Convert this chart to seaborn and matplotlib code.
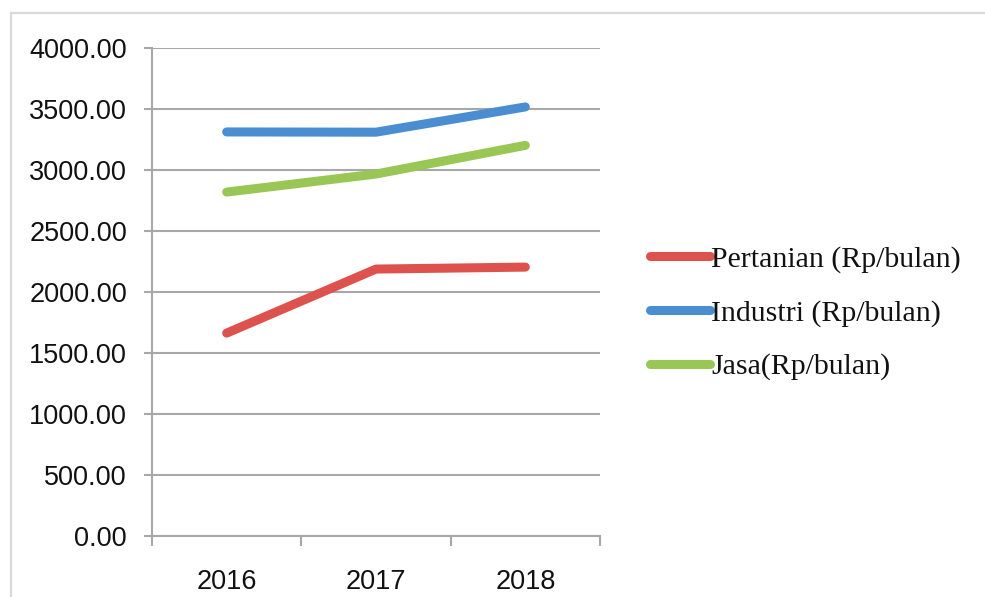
import pandas as pd
import matplotlib.pyplot as plt
from matplotlib.patches import Rectangle
from matplotlib.ticker import FixedLocator
import seaborn as sns

tahun = ["2016", "2017", "2018"]
pertanian = [1663, 2188, 2204]
industri = [3312, 3310, 3517]
jasa = [2819, 2967, 3202]

seri = ["Pertanian (Rp/bulan)", "Industri (Rp/bulan)", "Jasa(Rp/bulan)"]
warna = ["#DD524D", "#4A8DD0", "#99C655"]

df = pd.DataFrame({
    "Tahun": tahun * 3,
    "Nilai": pertanian + industri + jasa,
    "Sektor": [seri[0]] * 3 + [seri[1]] * 3 + [seri[2]] * 3,
})

sns.set_style("white")
plt.rcParams["font.family"] = ["Liberation Sans", "DejaVu Sans"]

fig = plt.figure(figsize=(9.85, 5.97), dpi=100)
ax = fig.add_axes([152 / 985, 1 - 536 / 597, 448 / 985, 488 / 597])

# bingkai luar chart
fig.patches.append(Rectangle((11 / 985, -0.1), 1.2, 1 - 13 / 597 + 0.1,
                             transform=fig.transFigure, fill=False,
                             edgecolor="#D9D9D9", linewidth=1.6, zorder=0))

sns.lineplot(data=df, x="Tahun", y="Nilai", hue="Sektor", palette=warna,
             linewidth=6.5, solid_capstyle="round", ax=ax, legend=False, sort=False)

ax.set_xlim(-0.5, 2.5)
ax.set_ylim(0, 4000)
ax.set_yticks(range(0, 4001, 500))
ax.set_yticklabels([f"{v:.2f}" for v in range(0, 4001, 500)])
ax.yaxis.grid(True, color="#A8A8A8", linewidth=1.5)
ax.set_axisbelow(True)

ax.set_xticks([0, 1, 2])
ax.set_xticklabels(tahun)
ax.xaxis.set_minor_locator(FixedLocator([-0.5, 0.5, 1.5, 2.5]))
ax.tick_params(axis="x", which="major", length=0, pad=24, labelsize=19.5, labelcolor="#111111")
ax.tick_params(axis="x", which="minor", bottom=True, length=7, width=1.5, color="#A8A8A8")
ax.tick_params(axis="y", left=True, length=6, width=1.5, color="#A8A8A8",
               pad=12, labelsize=19.5, labelcolor="#111111")
ax.set_xlabel("")
ax.set_ylabel("")

for s in ["top", "right"]:
    ax.spines[s].set_visible(False)
for s in ["left", "bottom"]:
    ax.spines[s].set_color("#A8A8A8")
    ax.spines[s].set_linewidth(1.5)

handles = [plt.Line2D([], [], color=c, linewidth=6.5, solid_capstyle="round") for c in warna]
fig.legend(handles, seri, loc="center left", bbox_to_anchor=(623 / 985, 1 - 313 / 597),
           frameon=False, prop={"family": "Liberation Serif", "size": 21.5},
           handlelength=2.0, handletextpad=0.05, labelspacing=0.89, labelcolor="#111111")

plt.savefig("out.png", dpi=100)
